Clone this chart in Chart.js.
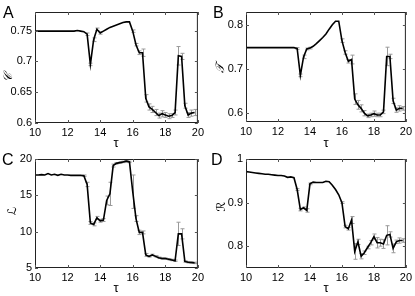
<!DOCTYPE html>
<html>
<head>
<meta charset="utf-8">
<script src="https://cdn.jsdelivr.net/npm/chart.js@4/dist/chart.umd.min.js"></script>
<style>
body { margin: 0; background: #fff; width: 415px; height: 296px; position: relative; overflow: hidden; font-family: "Liberation Sans", Arial, sans-serif; }
canvas { position: absolute; }
.letter { position: absolute; font-size: 16px; line-height: 16px; }
.ytitle { position: absolute; font-size: 12px; font-family: "DejaVu Serif", "DejaVu Sans", serif; font-style: italic; transform: translate(-50%, -50%) rotate(-90deg); white-space: nowrap; }
.xtitle { position: absolute; font-size: 13px; transform: translate(-50%, -50%); }
</style>
</head>
<body>
<canvas id="pA" width="207" height="148" style="left:0;top:0"></canvas>
<canvas id="pB" width="208" height="148" style="left:207px;top:0"></canvas>
<canvas id="pC" width="207" height="148" style="left:0;top:148px"></canvas>
<canvas id="pD" width="208" height="148" style="left:207px;top:148px"></canvas>

<div class="letter" style="left:3px;top:5px">A</div>
<div class="letter" style="left:213px;top:5px">B</div>
<div class="letter" style="left:2px;top:152px">C</div>
<div class="letter" style="left:211px;top:152px">D</div>

<div class="ytitle" style="left:8px;top:77px">&#x1D49E;</div>
<div class="ytitle" style="left:220px;top:68px">&#x1D4AF;</div>
<div class="ytitle" style="left:12px;top:211px">&#x2112;</div>
<div class="ytitle" style="left:221px;top:207px">&#x211B;</div>

<div class="xtitle" style="left:116px;top:142px">τ</div>
<div class="xtitle" style="left:326px;top:142px">τ</div>
<div class="xtitle" style="left:116px;top:287px">τ</div>
<div class="xtitle" style="left:326px;top:287px">τ</div>

<script>
const tau = [10, 10.2, 10.4, 10.6, 10.8, 11, 11.2, 11.4, 11.6, 11.8, 12, 12.2, 12.4, 12.6, 12.8,
  13, 13.2, 13.4, 13.6, 13.8, 14, 14.2, 14.4, 14.6, 14.8, 15, 15.2, 15.4, 15.6, 15.8,
  16, 16.2, 16.4, 16.6, 16.8, 17, 17.2, 17.4, 17.6, 17.8, 18, 18.2, 18.4, 18.6, 18.8,
  19, 19.2, 19.4, 19.6, 19.8];
const xTicks = [10, 12, 14, 16, 18, 20];

// panel A
const valA = [0.749, 0.749, 0.749, 0.749, 0.749, 0.749, 0.749, 0.749, 0.749, 0.749, 0.749, 0.749, 0.749, 0.750, 0.749,
  0.748, 0.744, 0.695, 0.735, 0.752, 0.746, 0.749, 0.752, 0.755, 0.757, 0.759, 0.761, 0.763, 0.764, 0.764,
  0.749, 0.727, 0.714, 0.714, 0.640, 0.626, 0.622, 0.617, 0.612, 0.615, 0.613, 0.611, 0.612, 0.617, 0.709,
  0.708, 0.628, 0.613, 0.616, 0.617];
const errA = [0, 0, 0, 0, 0, 0, 0, 0, 0, 0, 0, 0, 0, 0, 0,
  0, 0.002, 0.002, 0.003, 0.002, 0.002, 0, 0, 0, 0, 0, 0, 0, 0, 0,
  0.002, 0.002, 0.003, 0.006, 0.006, 0.005, 0.005, 0.005, 0.004, 0.005, 0.004, 0.004, 0.003, 0.004, 0.015,
  0.005, 0.004, 0.004, 0.005, 0.005];
const ticksA = [0.6, 0.65, 0.7, 0.75];

// panel B
const valB = [0.749, 0.749, 0.749, 0.749, 0.749, 0.749, 0.749, 0.749, 0.749, 0.749, 0.749, 0.749, 0.749, 0.749, 0.749,
  0.749, 0.747, 0.686, 0.728, 0.746, 0.748, 0.752, 0.758, 0.765, 0.772, 0.780, 0.791, 0.801, 0.809, 0.809,
  0.765, 0.738, 0.718, 0.722, 0.632, 0.619, 0.611, 0.600, 0.594, 0.596, 0.599, 0.596, 0.596, 0.603, 0.729,
  0.729, 0.628, 0.607, 0.611, 0.611];
const errB = [0, 0, 0, 0, 0, 0, 0, 0, 0, 0, 0, 0, 0, 0, 0,
  0, 0.002, 0.003, 0.004, 0.002, 0.002, 0, 0, 0, 0, 0, 0, 0, 0, 0,
  0.004, 0.004, 0.004, 0.010, 0.012, 0.010, 0.008, 0.006, 0.004, 0.004, 0.006, 0.004, 0.004, 0.004, 0.021,
  0.005, 0.006, 0.005, 0.006, 0.004];
const ticksB = [0.6, 0.7, 0.8];

// panel C
const valC = [17.8, 17.8, 17.85, 17.8, 18.0, 17.8, 17.9, 17.75, 17.9, 17.8, 17.8, 17.75, 17.75, 17.75, 17.75,
  17.7, 16.5, 11.2, 11.0, 11.9, 11.5, 11.6, 14.3, 15.2, 19.1, 19.4, 19.5, 19.6, 19.7, 19.6,
  15.5, 11.8, 9.9, 9.9, 6.8, 6.6, 6.8, 6.6, 6.4, 6.3, 6.3, 6.2, 6.1, 6.0, 9.7,
  9.7, 5.9, 5.8, 5.75, 5.7];
const errC = [0, 0, 0, 0, 0, 0, 0, 0, 0, 0, 0, 0, 0, 0, 0,
  0.1, 0.3, 0.2, 0.2, 0.2, 0.2, 0.2, 0.6, 1.6, 0.2, 0.1, 0.1, 0.1, 0.1, 0.1,
  2.3, 0.4, 0.3, 0.2, 0.2, 0.1, 0.1, 0.1, 0.1, 0.1, 0.1, 0.1, 0.1, 0.1, 1.6,
  0.7, 0.1, 0.1, 0.1, 0.1];
const ticksC = [5, 10, 15, 20];

// panel D
const valD = [0.971, 0.970, 0.969, 0.968, 0.967, 0.966, 0.965, 0.965, 0.964, 0.963, 0.962, 0.962, 0.961, 0.958, 0.959,
  0.957, 0.930, 0.884, 0.888, 0.882, 0.943, 0.947, 0.946, 0.946, 0.946, 0.949, 0.948, 0.940, 0.930, 0.918,
  0.900, 0.845, 0.840, 0.860, 0.788, 0.810, 0.777, 0.785, 0.797, 0.808, 0.822, 0.808, 0.808, 0.805, 0.825,
  0.827, 0.795, 0.810, 0.813, 0.813];
const errD = [0, 0, 0, 0, 0, 0, 0, 0, 0, 0, 0, 0, 0, 0, 0,
  0, 0.002, 0.003, 0.002, 0.004, 0.002, 0, 0, 0, 0, 0, 0, 0, 0, 0,
  0.002, 0.003, 0.003, 0.008, 0.018, 0.006, 0.006, 0.004, 0.003, 0.005, 0.006, 0.012, 0.008, 0.010, 0.022,
  0.006, 0.010, 0.004, 0.006, 0.004];
const ticksD = [0.8, 0.9, 1];

// grey error bars under the line
const errorBars = {
    id: 'errorBars',
    beforeDatasetsDraw(chart, args, opts) {
        const ctx = chart.ctx;
        const xs = chart.scales.x, ys = chart.scales.y;
        const errs = opts.errs || [];
        const vals = chart.data.datasets[0].data;
        ctx.save();
        ctx.strokeStyle = '#9a9a9a';
        ctx.lineWidth = 1;
        ctx.beginPath();
        vals.forEach((p, i) => {
            const e = errs[i];
            if (!e) return;
            const x = Math.round(xs.getPixelForValue(p.x)) + 0.5;
            const y1 = ys.getPixelForValue(p.y - e);
            const y2 = ys.getPixelForValue(p.y + e);
            ctx.moveTo(x, y1); ctx.lineTo(x, y2);
            ctx.moveTo(x - 2, y1); ctx.lineTo(x + 2, y1);
            ctx.moveTo(x - 2, y2); ctx.lineTo(x + 2, y2);
        });
        ctx.stroke();
        ctx.restore();
    }
};

// box with inward ticks, matlab style
const frame = {
    id: 'frame',
    afterDraw(chart) {
        const ctx = chart.ctx;
        const a = chart.chartArea;
        const xs = chart.scales.x, ys = chart.scales.y;
        ctx.save();
        ctx.strokeStyle = '#222';
        ctx.lineWidth = 1;
        ctx.strokeRect(a.left + 0.5, a.top + 0.5, a.right - a.left - 1, a.bottom - a.top - 1);
        ctx.strokeStyle = '#555';
        ctx.beginPath();
        xs.ticks.forEach(t => {
            const x = Math.round(xs.getPixelForValue(t.value)) + 0.5;
            ctx.moveTo(x, a.bottom); ctx.lineTo(x, a.bottom - 3);
            ctx.moveTo(x, a.top); ctx.lineTo(x, a.top + 3);
        });
        ys.ticks.forEach(t => {
            const y = Math.round(ys.getPixelForValue(t.value)) + 0.5;
            ctx.moveTo(a.left, y); ctx.lineTo(a.left + 3, y);
            ctx.moveTo(a.right, y); ctx.lineTo(a.right - 3, y);
        });
        ctx.stroke();
        ctx.restore();
    }
};

function makePanel(id, vals, errs, yMin, yMax, yTicks, pad, yWidth, xHeight) {
    const ctx = document.getElementById(id).getContext('2d');
    return new Chart(ctx, {
        type: 'line',
        data: {
            datasets: [{
                data: tau.map((t, i) => ({ x: t, y: vals[i] })),
                borderColor: '#000',
                borderWidth: 1.6,
                pointRadius: 0,
                tension: 0,
                fill: false
            }]
        },
        options: {
            responsive: false,
            animation: false,
            devicePixelRatio: 1,
            layout: { padding: pad },
            plugins: {
                legend: { display: false },
                tooltip: { enabled: false },
                errorBars: { errs: errs }
            },
            scales: {
                x: {
                    type: 'linear',
                    min: 10,
                    max: 20,
                    afterBuildTicks: s => { s.ticks = xTicks.map(v => ({ value: v })); },
                    afterFit: s => { s.height = xHeight; },
                    grid: { display: false, drawTicks: false },
                    border: { display: false },
                    ticks: {
                        color: '#000',
                        padding: 3,
                        maxRotation: 0,
                        font: { family: 'Liberation Sans', size: 11 },
                        callback: v => String(v)
                    }
                },
                y: {
                    type: 'linear',
                    min: yMin,
                    max: yMax,
                    afterBuildTicks: s => { s.ticks = yTicks.map(v => ({ value: v })); },
                    afterFit: s => { s.width = yWidth; },
                    grid: { display: false, drawTicks: false },
                    border: { display: false },
                    ticks: {
                        color: '#000',
                        padding: 3,
                        font: { family: 'Liberation Sans', size: 11 },
                        callback: v => String(v)
                    }
                }
            }
        },
        plugins: [errorBars, frame]
    });
}

makePanel('pA', valA, errA, 0.6, 0.78, ticksA, { left: 0, top: 12, right: 9, bottom: 0 }, 35, 25);
makePanel('pB', valB, errB, 0.58, 0.83, ticksB, { left: 0, top: 12, right: 9, bottom: 0 }, 39, 26);
makePanel('pC', valC, errC, 5, 20, ticksC, { left: 0, top: 11, right: 9, bottom: 0 }, 35, 28);
makePanel('pD', valD, errD, 0.75, 1, ticksD, { left: 0, top: 11, right: 9, bottom: 0 }, 39, 28);
</script>
</body>
</html>
